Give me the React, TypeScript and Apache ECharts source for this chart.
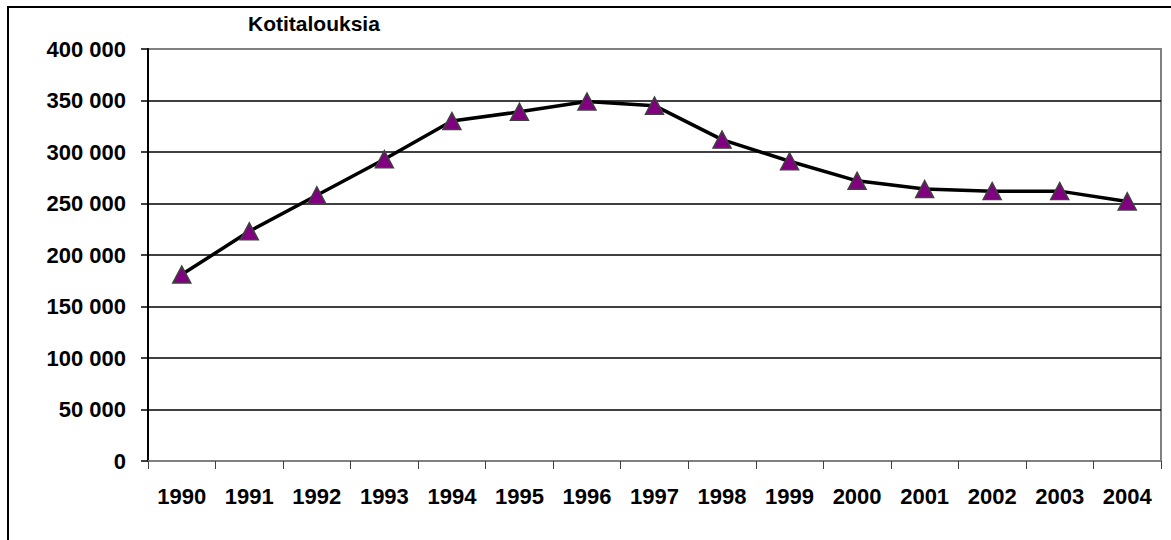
import React, { useEffect, useRef } from "react";
import * as echarts from "echarts";

const years = ["1990", "1991", "1992", "1993", "1994", "1995", "1996", "1997", "1998", "1999", "2000", "2001", "2002", "2003", "2004"];
const households = [181000, 223000, 258000, 293000, 330000, 339000, 349000, 345000, 312000, 291000, 272000, 264000, 262000, 262000, 252000];
const yTicks = [0, 50000, 100000, 150000, 200000, 250000, 300000, 350000, 400000];
const titleText = "Kotitalouksia";

const FONT = "'Liberation Sans', Arial, sans-serif";

function fmt(v: number): string {
  return String(v).replace(/\B(?=(\d{3})+(?!\d))/g, " ");
}

export default function App() {
  const ref = useRef<HTMLDivElement>(null);
  useEffect(() => {
    if (!ref.current) return;
    const chart = echarts.init(ref.current, null, { renderer: "svg" });
    chart.setOption({
      animation: false,
      backgroundColor: "#ffffff",
      title: {
        text: titleText,
        left: 248,
        top: 13,
        padding: 0,
        textStyle: { fontFamily: FONT, fontWeight: "bold", fontSize: 21, color: "#000" },
      },
      graphic: [
        {
          type: "rect",
          shape: { x: 8, y: 7, width: 1300, height: 700 },
          style: { fill: "none", stroke: "#000", lineWidth: 2 },
          silent: true,
        },
      ],
      grid: {
        left: 148,
        right: 10,
        top: 49,
        bottom: 79,
        show: true,
        borderColor: "#808080",
        borderWidth: 2,
        backgroundColor: "transparent",
      },
      xAxis: {
        type: "category",
        data: years,
        boundaryGap: true,
        axisLine: { show: true, lineStyle: { color: "#808080", width: 2 } },
        axisTick: { show: true, length: 8, lineStyle: { color: "#404040", width: 1 } },
        axisLabel: {
          margin: 24,
          fontFamily: FONT,
          fontWeight: "bold",
          fontSize: 22,
          color: "#000",
          interval: 0,
        },
        splitLine: { show: false },
      },
      yAxis: {
        type: "value",
        min: yTicks[0],
        max: yTicks[yTicks.length - 1],
        interval: yTicks[1] - yTicks[0],
        axisLine: { show: true, lineStyle: { color: "#000", width: 2 } },
        axisTick: { show: true, length: 7, lineStyle: { color: "#000", width: 1.5 } },
        axisLabel: {
          margin: 22,
          fontFamily: FONT,
          fontWeight: "bold",
          fontSize: 22,
          color: "#000",
          formatter: (v: number) => fmt(v),
        },
        splitLine: {
          show: true,
          showMinLine: false,
          showMaxLine: false,
          lineStyle: { color: "#000", width: 1.5 },
        },
      },
      series: [
        {
          type: "line",
          data: households,
          symbol: "triangle",
          symbolSize: [18, 17],
          lineStyle: { color: "#000", width: 3.5 },
          itemStyle: { color: "#800080", borderColor: "#404040", borderWidth: 1.5 },
          z: 3,
        },
      ],
    });
    return () => chart.dispose();
  }, []);
  return (
    <div
      ref={ref}
      style={{ position: "absolute", left: 0, top: 0, width: 1171, height: 540 }}
    />
  );
}
